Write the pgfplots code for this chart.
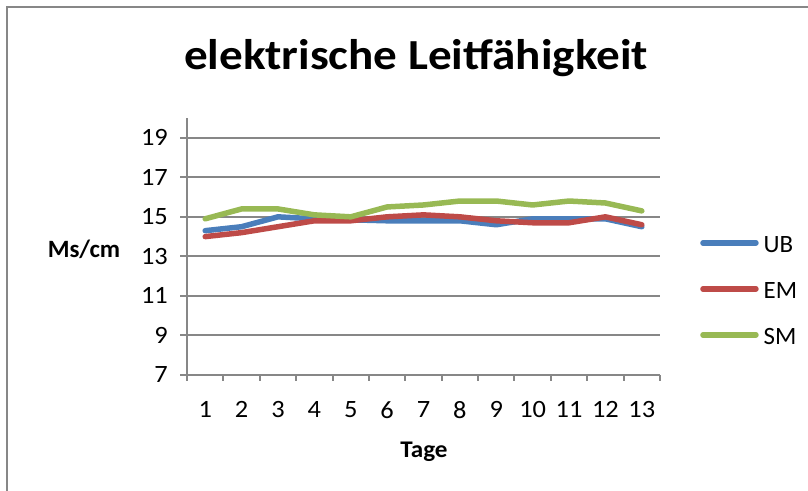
\documentclass[border=0pt]{standalone}
\usepackage{pgfplots}
\pgfplotsset{compat=1.18}
\usepackage{fontspec}
\setmainfont{Carlito}
\definecolor{cUB}{HTML}{4A7EBB}
\definecolor{cEM}{HTML}{BE4B48}
\definecolor{cSM}{HTML}{98B954}
\definecolor{cgrid}{HTML}{878787}
\begin{document}
\begin{tikzpicture}[x=1bp,y=1bp]
\path[use as bounding box] (0,0) rectangle (808,491);
\draw[cgrid, line width=2bp] (7,0) -- (7,484) -- (808,484);
\node[anchor=base, font=\bfseries\fontsize{43}{50}\selectfont, inner sep=0, xscale=1.1] at (416,421) {elektrische Leitfähigkeit};
\node[anchor=base, font=\bfseries\fontsize{25}{30}\selectfont, inner sep=0] at (84,233) {Ms/cm};
\node[anchor=base, font=\bfseries\fontsize{24}{29}\selectfont, inner sep=0, xscale=1.05] at (424,33) {Tage};
\begin{axis}[
  at={(187bp,116bp)}, anchor=south west,
  scale only axis, width=473bp, height=257bp,
  xmin=0.5, xmax=13.5, ymin=7, ymax=20,
  axis lines*=left,
  axis line style={cgrid, line width=2bp},
  xtick={1,...,13}, major x tick style={draw=none},
  minor xtick={0.5,1.5,...,13.5},
  minor x tick style={cgrid, line width=2bp},
  minor tick length=6bp,
  ytick={7,9,...,19},
  y tick style={cgrid, line width=2bp},
  major tick length=7bp,
  tick align=outside,
  ymajorgrids, major grid style={cgrid, line width=2bp},
  /pgf/number format/assume math mode=true,
  tick label style={font=\fontsize{25}{30}\selectfont, inner sep=0pt},
  xticklabel style={anchor=north, yshift=-19bp, xscale=1.06},
  yticklabel style={anchor=east, xshift=-12bp, xscale=1.06},
  legend style={at={(1.0846,0.331)}, anchor=west, draw=none, fill=none,
    font=\fontsize{25}{30}\selectfont, inner sep=0pt, row sep=29bp, column sep=5bp,
    nodes={inner sep=0pt, text height=17bp, text depth=0bp}},
  legend cell align=left,
  legend image code/.code={\draw[#1] (0bp,1bp) -- (53bp,1bp);},
  every axis plot/.append style={line width=5.5bp, line join=round, line cap=round},
]
\addplot[cUB] coordinates {(1,14.3) (2,14.5) (3,15.0) (4,14.9) (5,14.85) (6,14.8) (7,14.8) (8,14.8) (9,14.6) (10,14.9) (11,14.9) (12,14.9) (13,14.5)};
\addplot[cEM] coordinates {(1,14.0) (2,14.2) (3,14.5) (4,14.8) (5,14.8) (6,15.0) (7,15.1) (8,15.0) (9,14.8) (10,14.7) (11,14.7) (12,15.0) (13,14.6)};
\addplot[cSM] coordinates {(1,14.9) (2,15.4) (3,15.4) (4,15.1) (5,15.0) (6,15.5) (7,15.6) (8,15.8) (9,15.8) (10,15.6) (11,15.8) (12,15.7) (13,15.3)};
\legend{UB,EM,SM}
\end{axis}
\end{tikzpicture}
\end{document}
